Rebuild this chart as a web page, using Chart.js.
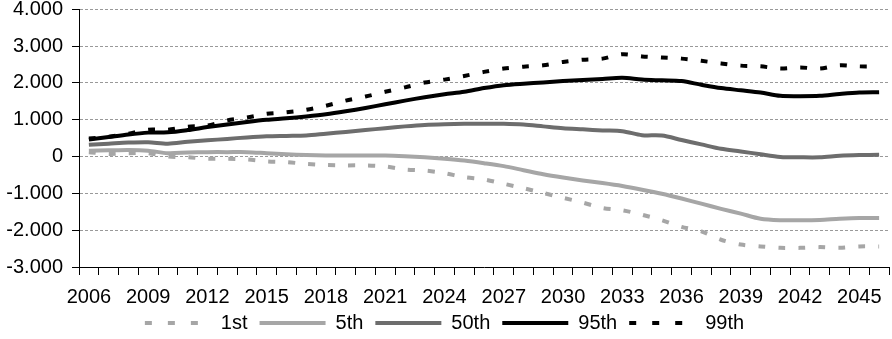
<!DOCTYPE html>
<html>
<head>
<meta charset="utf-8">
<script src="https://cdn.jsdelivr.net/npm/chart.js@4/dist/chart.umd.min.js"></script>
<style>
  html, body { margin: 0; padding: 0; background: #fff; }
  #wrap { width: 892px; height: 339px; }
</style>
</head>
<body>
<div id="wrap"><canvas id="chart"></canvas></div>
<script>
const years = [];
for (let y = 2006; y <= 2046; y++) years.push(String(y));

const p1 = [120, 70, 90, 90, 0, -20, -60, -60, -80, -130, -150, -200, -230, -240, -240, -270, -350, -380, -450, -560,
  -620, -740, -860, -990, -1120, -1250, -1400, -1460, -1580, -1730, -1910, -2030, -2260, -2390, -2440, -2480, -2480, -2460, -2480, -2440, -2440];
const p5 = [160, 170, 180, 160, 90, 110, 120, 120, 120, 90, 60, 40, 30, 30, 30, 30, 10, -20, -60, -110,
  -180, -260, -370, -480, -570, -650, -720, -800, -900, -1010, -1140, -1280, -1420, -1550, -1690, -1730, -1730, -1720, -1690, -1670, -1670];
const p50 = [320, 350, 380, 390, 350, 400, 440, 480, 520, 550, 560, 570, 620, 670, 720, 770, 820, 860, 880, 890,
  890, 890, 870, 820, 770, 740, 710, 690, 580, 570, 450, 330, 210, 140, 60, -10, -20, -20, 20, 40, 50];
const p95 = [460, 530, 600, 650, 660, 720, 800, 870, 940, 1000, 1040, 1090, 1150, 1230, 1320, 1420, 1520, 1610, 1690, 1760,
  1860, 1940, 1980, 2010, 2050, 2080, 2110, 2140, 2090, 2070, 2050, 1950, 1860, 1800, 1740, 1650, 1640, 1650, 1700, 1740, 1750];
const p99 = [490, 540, 620, 730, 730, 810, 840, 980, 1060, 1160, 1200, 1270, 1380, 1520, 1630, 1760, 1880, 2010, 2090, 2190,
  2300, 2390, 2440, 2480, 2570, 2630, 2660, 2780, 2720, 2690, 2660, 2600, 2530, 2470, 2450, 2390, 2420, 2390, 2480, 2450, 2450];

const FONT = "'Liberation Sans', Arial, sans-serif";
const LIGHT = "#a6a6a6", MID = "#6d6d6d", BLACK = "#000000";

// 1.234 style thousands
function fmt(v) {
  const s = String(Math.abs(v)).replace(/\B(?=(\d{3})+(?!\d))/g, ".");
  return (v < 0 ? "-" : "") + s;
}

function line(label, data, color, dashed) {
  return {
    label: label,
    data: data,
    borderColor: color,
    backgroundColor: color,
    borderWidth: 4,
    borderDash: dashed ? [7, 13] : [],
    pointRadius: 0,
    pointStyle: "line",
    tension: 0.3,
    fill: false
  };
}

// legend a bit lower, x axis box taller so its labels are not clipped
const nudge = {
  id: "nudge",
  afterLayout(chart) {
    chart.legend.top += 4;
    chart.legend.bottom += 4;
    chart.scales.x.bottom = 318;
  }
};

new Chart(document.getElementById("chart"), {
  type: "line",
  data: {
    labels: years,
    datasets: [
      line("1st", p1, LIGHT, true),
      line("5th", p5, LIGHT, false),
      line("50th", p50, MID, false),
      line("95th", p95, BLACK, false),
      line("99th", p99, BLACK, true)
    ]
  },
  plugins: [nudge],
  options: {
    responsive: true,
    maintainAspectRatio: false,
    animation: false,
    layout: { padding: { left: 0, right: 3, top: 0, bottom: 0 } },
    plugins: {
      tooltip: { enabled: false },
      legend: {
        position: "bottom",
        labels: {
          usePointStyle: true,
          pointStyle: "line",
          pointStyleWidth: 66,
          padding: 12,
          color: "#000",
          font: { family: FONT, size: 20 },
          generateLabels(chart) {
            const items = Chart.defaults.plugins.legend.labels.generateLabels(chart);
            items.forEach(it => {
              const ds = chart.data.datasets[it.datasetIndex];
              it.lineDash = ds.borderDash.length ? [7, 16] : [];
              it.lineCap = "butt";
              it.lineWidth = 4;
              it.strokeStyle = ds.borderColor;
            });
            return items;
          }
        }
      }
    },
    scales: {
      x: {
        offset: true,
        grid: {
          offset: true,
          drawOnChartArea: false,
          drawTicks: true,
          tickLength: 8,
          tickColor: "#000"
        },
        border: { display: true, color: "#000", width: 1 },
        ticks: {
          autoSkip: false,
          maxRotation: 0,
          padding: 10,
          color: "#000",
          font: { family: FONT, size: 20 },
          callback: function (val, i) { return i % 3 === 0 ? this.getLabelForValue(val) : ""; }
        },
        afterFit: s => { s.height = 30; }
      },
      y: {
        min: -3000,
        max: 4000,
        grid: {
          color: "#999",
          lineWidth: 1,
          drawTicks: true,
          tickLength: 7,
          tickColor: "#000",
          tickBorderDash: []
        },
        border: { display: true, color: "#000", width: 1, dash: [3, 2] },
        ticks: {
          stepSize: 1000,
          padding: 9,
          color: "#000",
          font: { family: FONT, size: 20 },
          callback: v => fmt(v)
        },
        afterFit: s => { s.width = 79; s.paddingTop = 9.3; }
      }
    }
  }
});
</script>
</body>
</html>
